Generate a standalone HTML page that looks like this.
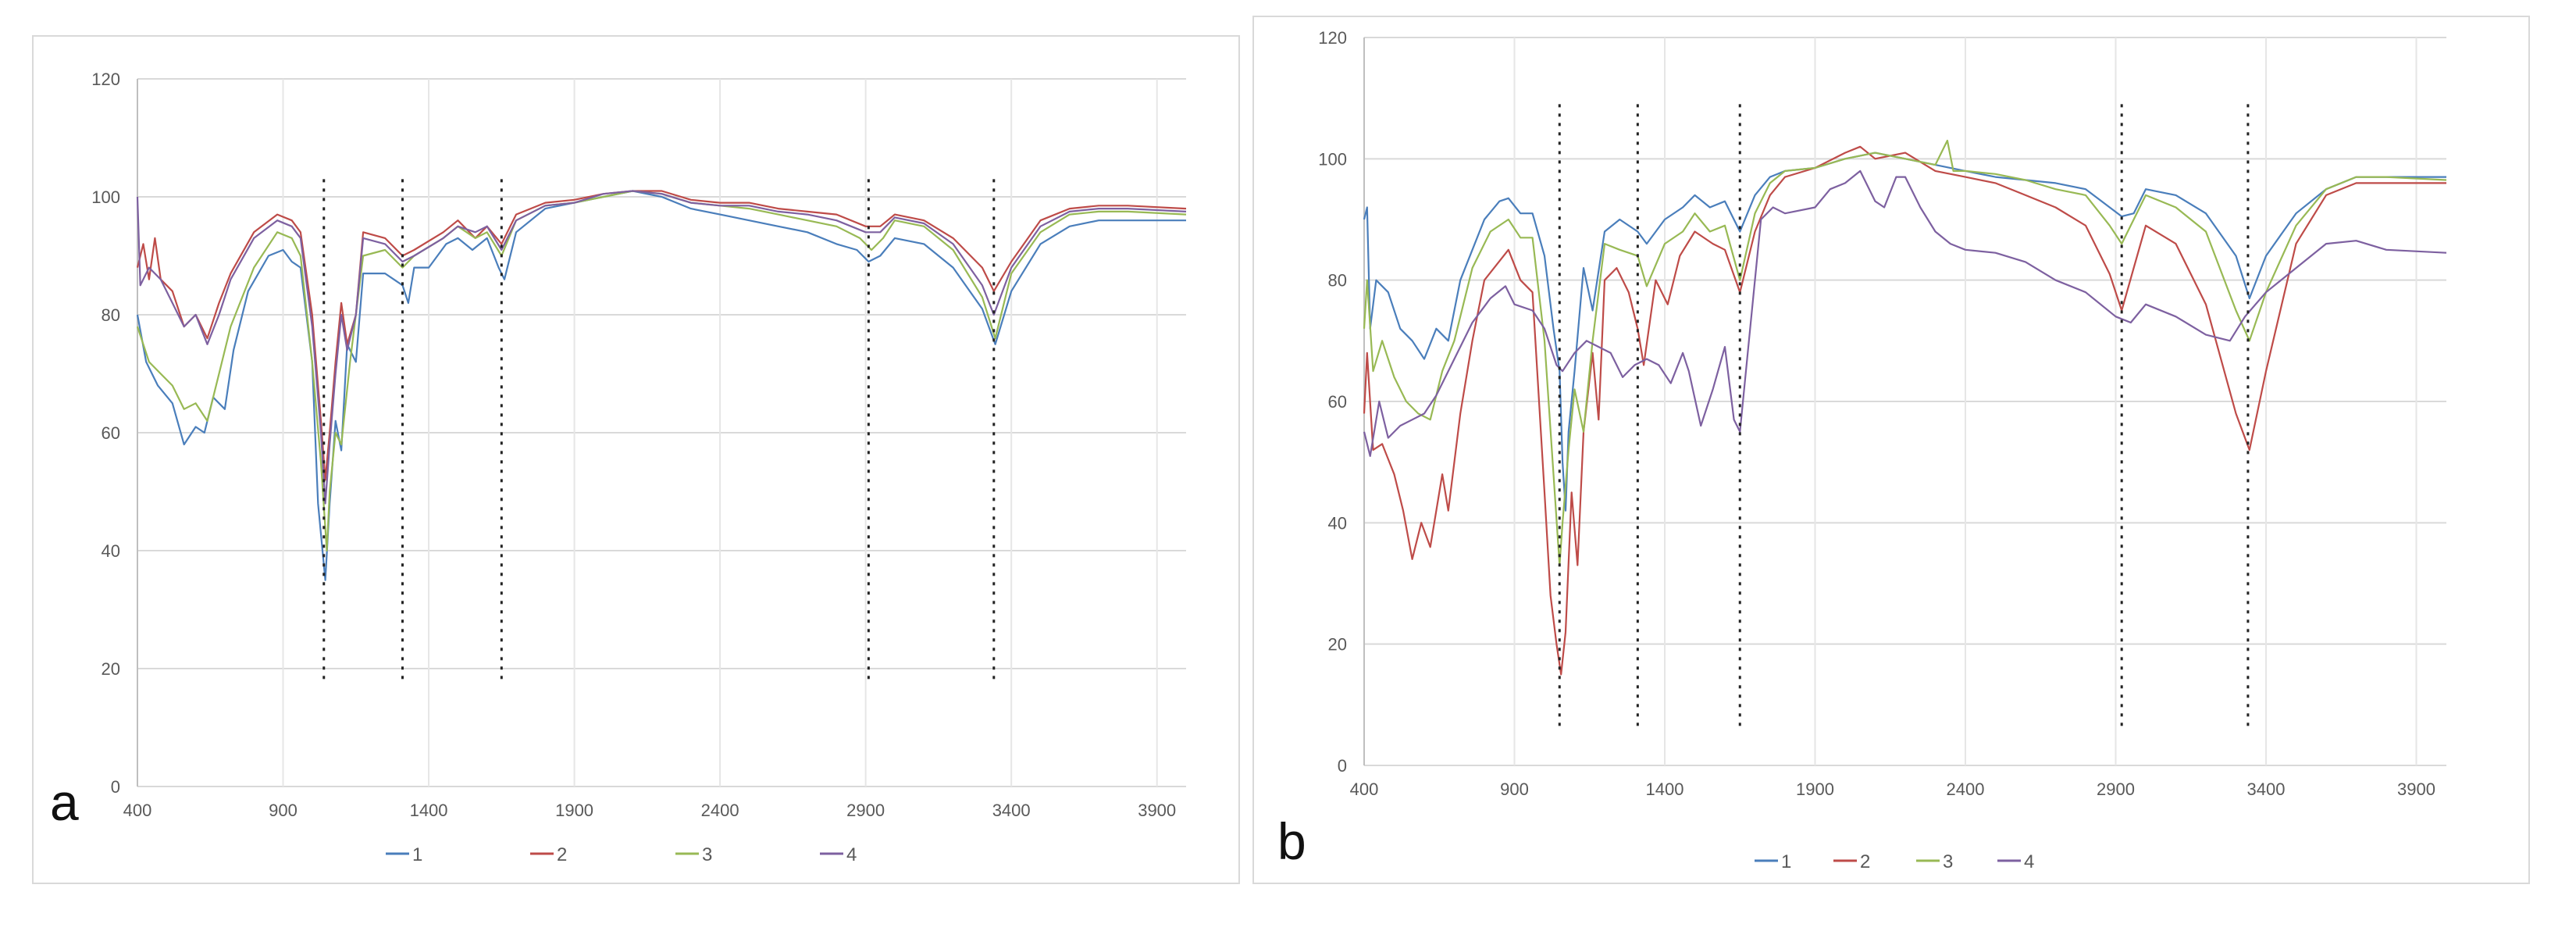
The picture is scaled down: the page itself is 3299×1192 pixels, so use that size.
<!DOCTYPE html>
<html><head><meta charset="utf-8">
<style>
html,body{margin:0;padding:0;background:#fff;}
body{width:3299px;height:1192px;overflow:hidden;position:relative;font-family:"Liberation Sans",sans-serif;}
svg{position:absolute;left:0;top:0;}
</style></head>
<body>
<svg id="fig" width="3299" height="1192" viewBox="0 0 3299 1192"></svg>
<script>
// ---------- data: panel a ----------
const aX1=[400,430,470,520,560,600,630,660,700,730,780,850,900,930,960,1000,1020,1045,1060,1080,1100,1120,1150,1175,1250,1310,1330,1350,1400,1460,1500,1550,1600,1640,1660,1700,1800,1900,2000,2100,2200,2300,2400,2500,2600,2700,2800,2870,2910,2950,3000,3100,3200,3300,3345,3400,3500,3600,3700,3800,4000];
const aY1=[80,72,68,65,58,61,60,66,64,74,84,90,91,89,88,72,48,35,48,62,57,75,72,87,87,85,82,88,88,92,93,91,93,88,86,94,98,99,100,101,100,98,97,96,95,94,92,91,89,90,93,92,88,81,75,84,92,95,96,96,96];
const aX2=[400,420,440,460,480,520,560,600,640,680,720,800,880,930,960,1000,1030,1045,1060,1080,1100,1120,1150,1175,1250,1310,1350,1450,1500,1560,1600,1650,1700,1800,1900,2000,2100,2200,2300,2400,2500,2600,2700,2800,2900,2950,3000,3100,3200,3300,3340,3400,3500,3600,3700,3800,4000];
const aY2=[88,92,86,93,86,84,78,80,76,82,87,94,97,96,94,80,62,52,60,72,82,75,80,94,93,90,91,94,96,93,95,92,97,99,99.5,100.5,101,101,99.5,99,99,98,97.5,97,95,95,97,96,93,88,84,89,96,98,98.5,98.5,98];
const aX3=[400,440,480,520,560,600,640,680,720,800,880,930,960,1000,1030,1050,1060,1080,1100,1130,1175,1250,1310,1350,1450,1500,1560,1600,1650,1700,1800,1900,2000,2100,2200,2300,2400,2500,2600,2700,2800,2880,2920,2960,3000,3100,3200,3300,3345,3400,3500,3600,3700,3800,4000];
const aY3=[78,72,70,68,64,65,62,70,78,88,94,93,90,72,55,40,50,60,58,72,90,91,88,90,93,95,93,94,90,96,98.5,99,100,101,100.5,99,98.5,98,97,96,95,93,91,93,96,95,91,83,76,87,94,97,97.5,97.5,97];
const aX4=[400,410,440,480,520,560,600,640,680,720,800,880,930,960,1000,1030,1045,1060,1080,1100,1120,1150,1175,1250,1310,1350,1450,1500,1560,1600,1650,1700,1800,1900,2000,2100,2200,2300,2400,2500,2600,2700,2800,2900,2950,3000,3100,3200,3300,3340,3400,3500,3600,3700,3800,4000];
const aY4=[100,85,88,86,82,78,80,75,80,86,93,96,95,93,78,60,48,58,70,80,74,80,93,92,89,90,93,95,94,95,91,96,98.5,99,100.5,101,100.5,99,98.5,98.5,97.5,97,96,94,94,96.5,95.5,92,85,80,88,95,97.5,98,98,97.5];
// ---------- data: panel b ----------
const bX1=[400,410,420,440,480,520,560,600,640,680,720,800,850,880,920,960,1000,1030,1050,1060,1070,1080,1100,1130,1160,1200,1250,1310,1340,1400,1460,1500,1550,1600,1650,1700,1750,1800,1900,2000,2100,2200,2300,2400,2500,2600,2700,2800,2880,2920,2960,3000,3100,3200,3300,3345,3400,3500,3600,3700,3800,4000];
const bY1=[90,92,72,80,78,72,70,67,72,70,80,90,93,93.5,91,91,84,72,65,50,42,55,65,82,75,88,90,88,86,90,92,94,92,93,88,94,97,98,98.5,100,101,100,99,98,97,96.5,96,95,92,90.5,91,95,94,91,84,77,84,91,95,97,97,97];
const bX2=[400,410,430,460,500,530,560,590,620,660,680,720,760,800,880,920,960,1000,1020,1040,1055,1070,1090,1110,1130,1160,1180,1200,1240,1280,1310,1330,1370,1410,1450,1500,1560,1600,1650,1700,1750,1800,1900,2000,2050,2100,2200,2300,2400,2500,2600,2700,2800,2880,2920,2960,3000,3100,3200,3300,3345,3400,3500,3600,3700,3800,4000];
const bY2=[58,68,52,53,48,42,34,40,36,48,42,58,70,80,85,80,78,45,28,20,15,22,45,33,55,68,57,80,82,78,72,66,80,76,84,88,86,85,78,88,94,97,98.5,101,102,100,101,98,97,96,94,92,89,81,75,82,89,86,76,58,52,65,86,94,96,96,96];
const bX3=[400,410,430,460,500,540,580,620,660,700,760,820,880,920,960,1000,1030,1050,1060,1080,1100,1130,1160,1200,1250,1310,1340,1400,1460,1500,1550,1600,1650,1700,1750,1800,1900,2000,2100,2200,2300,2340,2360,2400,2500,2600,2700,2800,2880,2920,2960,3000,3100,3200,3300,3345,3400,3500,3600,3700,3800,4000];
const bY3=[72,80,65,70,64,60,58,57,65,70,82,88,90,87,87,70,48,33,40,52,62,55,70,86,85,84,79,86,88,91,88,89,80,91,96,98,98.5,100,101,100,99,103,98,98,97.5,96.5,95,94,89,86,90,94,92,88,75,70,78,89,95,97,97,96.5];
const bX4=[400,420,450,480,520,560,600,640,700,760,820,870,900,960,1000,1040,1060,1100,1140,1180,1220,1260,1300,1340,1380,1420,1460,1480,1520,1560,1600,1630,1650,1680,1720,1760,1800,1900,1950,2000,2050,2100,2130,2170,2200,2250,2300,2350,2400,2500,2600,2700,2800,2900,2950,3000,3100,3200,3280,3330,3400,3500,3600,3700,3800,4000];
const bY4=[55,51,60,54,56,57,58,61,67,73,77,79,76,75,72,66,65,68,70,69,68,64,66,67,66,63,68,65,56,62,69,57,55,70,90,92,91,92,95,96,98,93,92,97,97,92,88,86,85,84.5,83,80,78,74,73,76,74,71,70,74,78,82,86,86.5,85,84.5];
const yTicks=[0,20,40,60,80,100,120];
const xTicks=[400,900,1400,1900,2400,2900,3400,3900];
const legendLabels=["1","2","3","4"];
const aMarkers=[1040,1310,1650,2910,3340];
const bMarkers=[1050,1310,1650,2920,3340];

const NS="http://www.w3.org/2000/svg";
const svg=document.getElementById('fig');
const colors=["#4a7ebb","#be4b48","#98b954","#7d60a0"];
function mk(tag,attrs,parent){const e=document.createElementNS(NS,tag);for(const k in attrs)e.setAttribute(k,attrs[k]);(parent||svg).appendChild(e);return e;}

function panel(p){
  const g=mk('g',{});
  
  
  const fr=mk('rect',{x:p.fx,y:p.fy,width:p.fw,height:p.fh,fill:'#fff',stroke:'#d9d9d9','stroke-width':2},g);
  
  
  const sx=v=>p.x0+(v-400)/3600*(p.x1-p.x0);
  const sy=v=>p.y0-(v/120)*(p.y0-p.y1);
  yTicks.forEach(t=>{
    const l=mk('line',{x1:p.x0,x2:p.x1,y1:sy(t),y2:sy(t),stroke:'#d9d9d9','stroke-width':2},g);
    
    
    const tx=mk('text',{x:p.x0-22,y:sy(t)+8,'text-anchor':'end','font-size':22,fill:'#595959'},g);
    tx.textContent=t;
    
    
  });
  xTicks.forEach(t=>{
    const l=mk('line',{x1:sx(t),x2:sx(t),y1:p.y1,y2:p.y0,stroke:t===400?'#bfbfbf':'#e6e6e6','stroke-width':2},g);
    
    
    const tx=mk('text',{x:sx(t),y:p.y0+38,'text-anchor':'middle','font-size':22,fill:'#595959'},g);
    tx.textContent=t;
    
    
  });
  p.series.forEach((s,i)=>{
    const d=s[0].map((x,j)=>(j?'L':'M')+sx(x).toFixed(1)+','+sy(s[1][j]).toFixed(1)).join('');
    const pa=mk('path',{d:d,fill:'none',stroke:colors[i],'stroke-width':2.2,'stroke-linejoin':'round'},g);
    
    
  });
  p.markers.forEach(m=>{
    const l=mk('line',{x1:sx(m),x2:sx(m),y1:sy(p.mTop),y2:sy(p.mBot),stroke:'#222','stroke-width':3,'stroke-dasharray':'4 8'},g);
    
    
  });
  legendLabels.forEach((lab,i)=>{
    const lx=p.legX[i];
    const ln=mk('line',{x1:lx,x2:lx+30,y1:p.legY,y2:p.legY,stroke:colors[i],'stroke-width':3},g);
    
    
    const tx=mk('text',{x:lx+34,y:p.legY+9,'font-size':24,fill:'#595959'},g);
    tx.textContent=lab;
    
    
  });
  const lt=mk('text',{x:p.lblX,y:p.lblY,'font-size':66,fill:'#111'},g);
  lt.textContent=p.id;
  
  
}
panel({id:'a',fx:42,fy:46,fw:1545,fh:1085,x0:176,x1:1519,y0:1007,y1:101,
  series:[[aX1,aY1],[aX2,aY2],[aX3,aY3],[aX4,aY4]],markers:aMarkers,mTop:103,mBot:18,
  legX:[494,679,865,1050],legY:1093,lblX:64,lblY:1050});
panel({id:'b',fx:1605,fy:21,fw:1634,fh:1110,x0:1747,x1:3133,y0:980,y1:48,
  series:[[bX1,bY1],[bX2,bY2],[bX3,bY3],[bX4,bY4]],markers:bMarkers,mTop:109,mBot:6,
  legX:[2247,2348,2454,2558],legY:1102,lblX:1636,lblY:1100});
</script>
</body></html>
